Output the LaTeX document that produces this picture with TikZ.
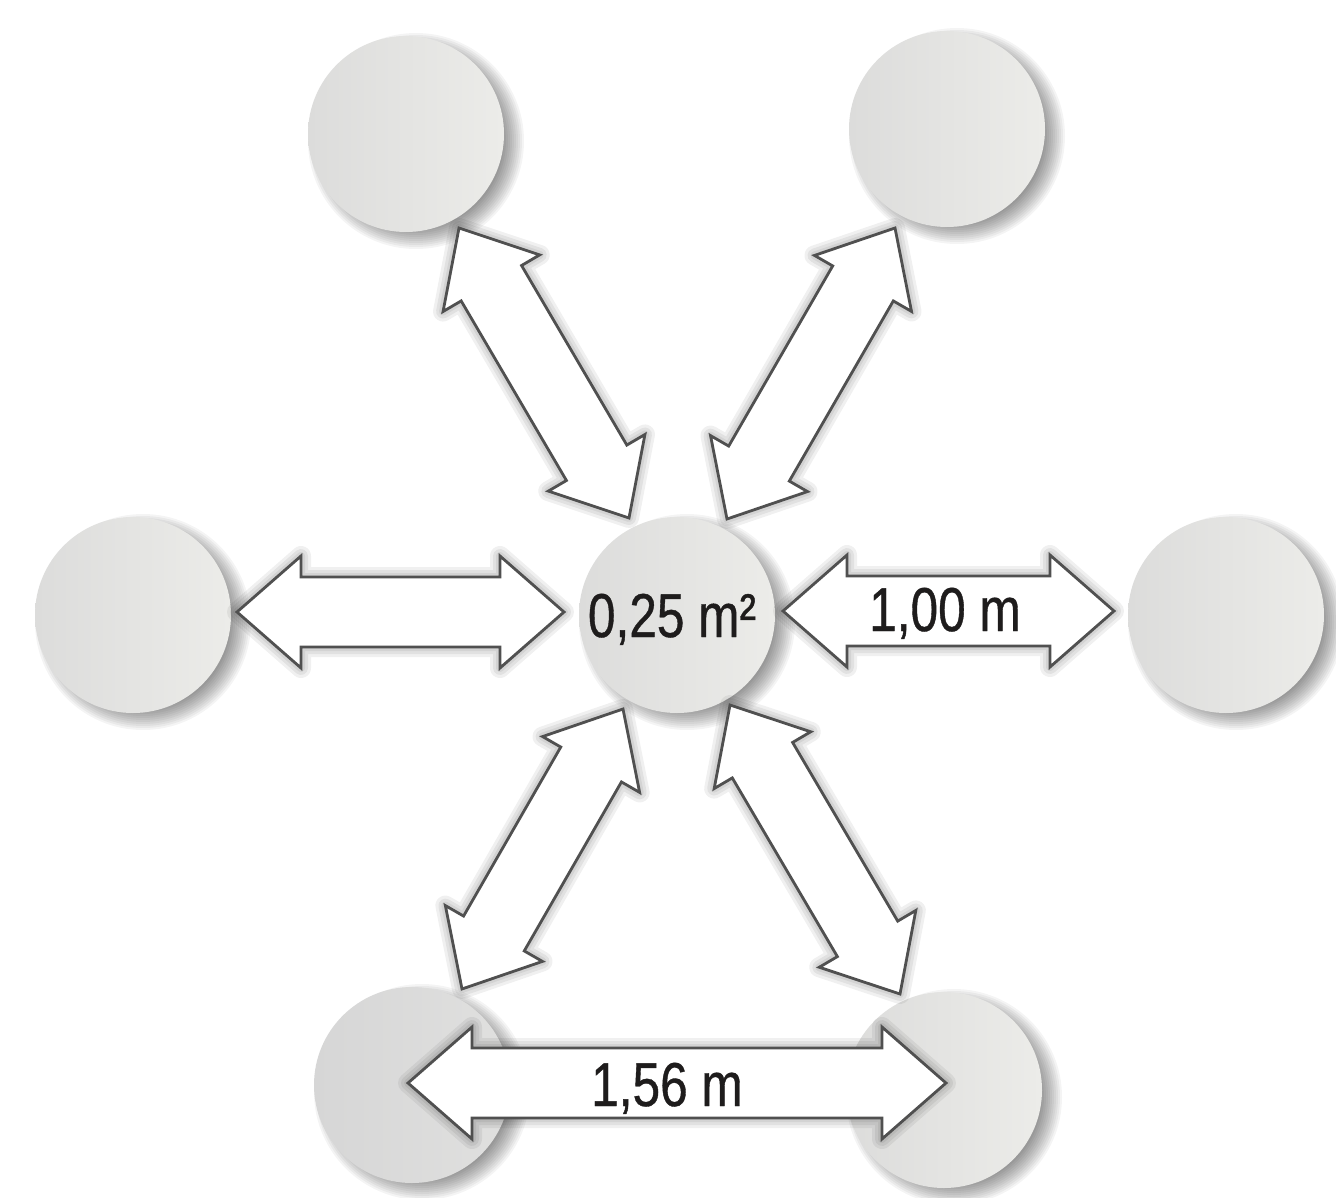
\documentclass[tikz,border=0pt]{standalone}
\usepackage{fontspec}
\setmainfont{Liberation Sans}[FakeStretch=0.8, FakeBold=0.6]
\usetikzlibrary{calc}

\pgfdeclarelayer{paper}
\pgfdeclarelayer{discshadow}
\pgfdeclarelayer{arrowshadow}
\pgfdeclarelayer{arrowlayer}
\pgfsetlayers{paper,discshadow,main,arrowshadow,arrowlayer}

\definecolor{discleft}{HTML}{DCDCDB}
\definecolor{discright}{HTML}{ECECE9}
\definecolor{discdarkL}{HTML}{D6D6D6}
\definecolor{discdarkR}{HTML}{E0E0DF}
\definecolor{outline}{HTML}{505050}
\definecolor{ink}{HTML}{1E1C1C}

\tikzset{
  disc/.style={circle, minimum size=196pt, inner sep=0pt,
    left color=discleft, right color=discright},
  darkdisc/.style={disc, left color=discdarkL, right color=discdarkR},
  blockarrow/.style={fill=white, draw=outline, line width=2.8pt, line join=miter},
  measure/.style={text=ink, inner sep=0pt, anchor=base,
    font=\fontsize{62}{70}\selectfont}
}

% double-headed block arrow between two named points
\newcommand\blockarrowpath[3]{%
  \path[#3] let \p1=(#1), \p2=(#2),
      \n1={atan2(\y2-\y1,\x2-\x1)}, \n2={veclen(\x2-\x1,\y2-\y1)} in
    [shift={(\p1)}, rotate=\n1]
    (0,0) -- (64,56) -- (64,35) -- ({\n2-64},35) -- ({\n2-64},56) -- (\n2,0)
    -- ({\n2-64},-56) -- ({\n2-64},-35) -- (64,-35) -- (64,-56) -- cycle;}

% arrow with a soft drop shadow
\newcommand\connector[2]{%
  \begin{pgfonlayer}{arrowshadow}
    \foreach \w in {20,14,8,2}{%
      \blockarrowpath{#1}{#2}{fill=black, fill opacity=.06, draw=black,
        draw opacity=.06, line width=\w pt, line join=round,
        xshift=7pt, yshift=-8pt}}
  \end{pgfonlayer}
  \begin{pgfonlayer}{arrowlayer}
    \blockarrowpath{#1}{#2}{blockarrow}
  \end{pgfonlayer}}

% soft drop shadow under a disc
\newcommand\discshadow[1]{%
  \begin{pgfonlayer}{discshadow}
    \foreach \k in {0,...,11}{%
      \fill[black, opacity=.045] ([xshift=10pt,yshift=-7pt]#1.center)
        circle[radius={(108-2*\k)*1pt}];}
  \end{pgfonlayer}}

\begin{document}
\begin{tikzpicture}[x=1pt,y=-1pt]
  \useasboundingbox (0,0) rectangle (1336,1197);
  \begin{pgfonlayer}{paper}
    \fill[white] (0,0) rectangle (1336,1197);
  \end{pgfonlayer}

  % discs
  \node[disc] (c)  at (677,615) {};
  \node[disc] (tl) at (406,134) {};
  \node[disc] (tr) at (947,129) {};
  \node[disc] (l)  at (133,615) {};
  \node[disc] (r)  at (1226,615) {};
  \node[darkdisc] (bl) at (412,1085) {};
  \node[disc] (br) at (944,1090) {};

  \foreach \d in {c,tl,tr,l,r,bl,br}{\discshadow{\d}}

  \node[measure] (area) at (672,637) {0,25 m²};

  % arrow ends
  \coordinate (l-a)  at (237,612);  \coordinate (l-b)  at (564,612);
  \coordinate (r-a)  at (783,611);  \coordinate (r-b)  at (1114,611);
  \coordinate (tl-a) at (459,228);  \coordinate (tl-b) at (629,518);
  \coordinate (tr-a) at (895,228);  \coordinate (tr-b) at (727,519);
  \coordinate (bl-a) at (623,709);  \coordinate (bl-b) at (462,989);
  \coordinate (br-a) at (730,705);  \coordinate (br-b) at (900,994);
  \coordinate (b-a)  at (408,1083); \coordinate (b-b)  at (946,1083);

  \connector{l-a}{l-b}
  \connector{r-a}{r-b}
  \connector{tl-a}{tl-b}
  \connector{tr-a}{tr-b}
  \connector{bl-a}{bl-b}
  \connector{br-a}{br-b}
  \connector{b-a}{b-b}

  \begin{pgfonlayer}{arrowlayer}
    \node[measure] (dist1) at (945,631) {1,00 m};
    \node[measure] (dist2) at (667,1106) {1,56 m};
  \end{pgfonlayer}
\end{tikzpicture}
\end{document}
